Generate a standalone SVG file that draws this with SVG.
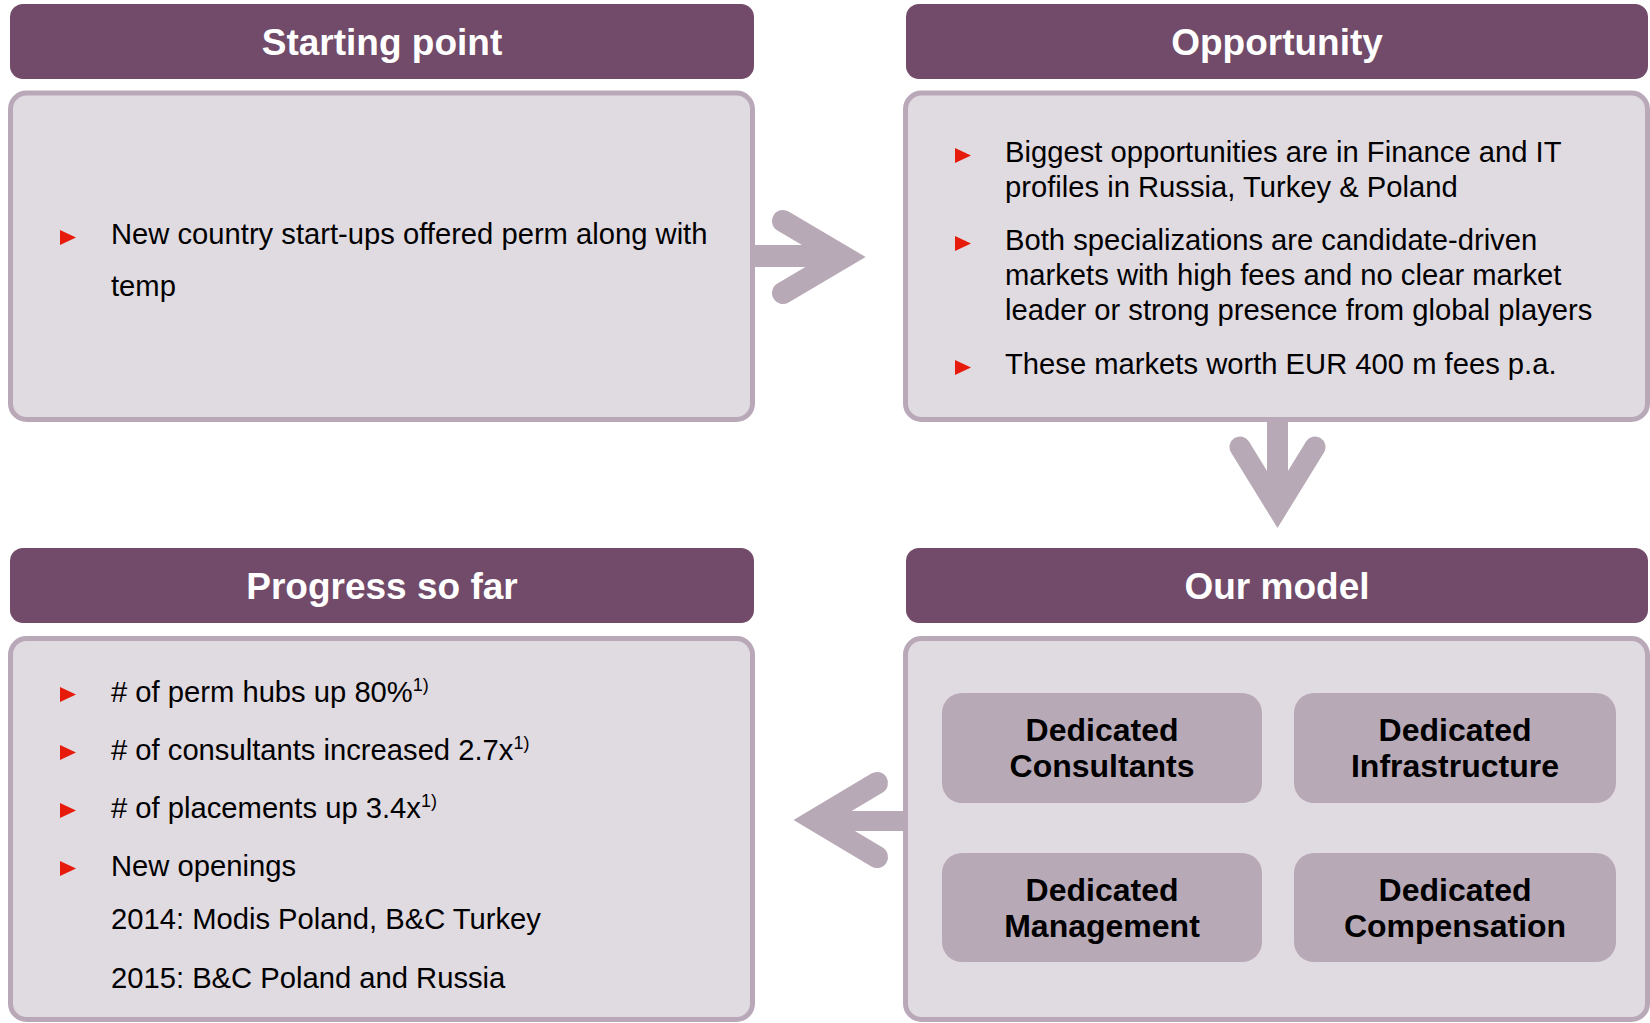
<svg xmlns="http://www.w3.org/2000/svg" width="1650" height="1023" viewBox="0 0 1650 1023">
  <defs>
    <style>
      .hdr { fill: #714b69; }
      .hdr-t { fill: #ffffff; font-family: "Liberation Sans", Arial, sans-serif; font-weight: bold; font-size: 37px; text-anchor: middle; }
      .body { fill: #e0dae1; stroke: #b9a9b8; stroke-width: 5; }
      .txt { fill: #000000; font-family: "Liberation Sans", Arial, sans-serif; font-size: 29.2px; }
      .sup { font-size: 18px; }
      .bul { fill: #e61b0c; }
      .tile { fill: #b8a9b7; }
      .tile-t { fill: #000000; font-family: "Liberation Sans", Arial, sans-serif; font-weight: bold; font-size: 32px; text-anchor: middle; }
      .shaft { fill: #b8a9b7; }
      .chev { fill: none; stroke: #b8a9b7; stroke-width: 22; stroke-linecap: round; stroke-linejoin: miter; stroke-miterlimit: 10; }
    </style>
    <polygon id="bullet" class="bul" points="0,-14 0,1 16,-6.5"/>
  </defs>

  <rect width="1650" height="1023" fill="#ffffff"/>

  <!-- connectors -->
  <g id="connectors">
    <!-- Starting point to Opportunity -->
    <rect class="shaft" x="754" y="245" width="90" height="22"/>
    <polyline class="chev" points="783,221 844,257 783,293"/>
    <!-- Opportunity to Our model -->
    <rect class="shaft" x="1267" y="421" width="21" height="70"/>
    <polyline class="chev" style="stroke-width:21" points="1240,447 1277.5,508 1315,447"/>
    <!-- Our model to Progress so far -->
    <rect class="shaft" x="815" y="811" width="89" height="20"/>
    <polyline class="chev" points="877,783 815,820 877,857"/>
  </g>

  <!-- Starting point -->
  <g id="starting-point">
    <rect class="hdr" x="10" y="4" width="744" height="75" rx="13"/>
    <text class="hdr-t" x="382" y="55">Starting point</text>
    <rect class="body" x="10.5" y="93" width="742" height="326.5" rx="16"/>
    <use href="#bullet" x="60" y="244"/>
    <text class="txt" x="111" y="244">New country start-ups offered perm along with</text>
    <text class="txt" x="111" y="296">temp</text>
  </g>

  <!-- Opportunity -->
  <g id="opportunity">
    <rect class="hdr" x="906" y="4" width="742" height="75" rx="13"/>
    <text class="hdr-t" x="1277" y="55">Opportunity</text>
    <rect class="body" x="905.5" y="93" width="742" height="326.5" rx="16"/>
    <use href="#bullet" x="955" y="162"/>
    <text class="txt" x="1005" y="162">Biggest opportunities are in Finance and IT</text>
    <text class="txt" x="1005" y="197">profiles in Russia, Turkey &amp; Poland</text>
    <use href="#bullet" x="955" y="250"/>
    <text class="txt" x="1005" y="250">Both specializations are candidate-driven</text>
    <text class="txt" x="1005" y="285">markets with high fees and no clear market</text>
    <text class="txt" x="1005" y="320">leader or strong presence from global players</text>
    <use href="#bullet" x="955" y="374"/>
    <text class="txt" x="1005" y="374">These markets worth EUR 400 m fees p.a.</text>
  </g>

  <!-- Progress so far -->
  <g id="progress-so-far">
    <rect class="hdr" x="10" y="548" width="744" height="75" rx="13"/>
    <text class="hdr-t" x="382" y="599">Progress so far</text>
    <rect class="body" x="10.5" y="638.5" width="742" height="381" rx="16"/>
    <use href="#bullet" x="60" y="701"/>
    <text class="txt" x="111" y="702"># of perm hubs up 80%<tspan class="sup" dy="-11">1)</tspan></text>
    <use href="#bullet" x="60" y="759"/>
    <text class="txt" x="111" y="760"># of consultants increased 2.7x<tspan class="sup" dy="-11">1)</tspan></text>
    <use href="#bullet" x="60" y="817"/>
    <text class="txt" x="111" y="818"># of placements up 3.4x<tspan class="sup" dy="-11">1)</tspan></text>
    <use href="#bullet" x="60" y="875"/>
    <text class="txt" x="111" y="876">New openings</text>
    <text class="txt" x="111" y="929">2014: Modis Poland, B&amp;C Turkey</text>
    <text class="txt" x="111" y="988">2015: B&amp;C Poland and Russia</text>
  </g>

  <!-- Our model -->
  <g id="our-model">
    <rect class="hdr" x="906" y="548" width="742" height="75" rx="13"/>
    <text class="hdr-t" x="1277" y="599">Our model</text>
    <rect class="body" x="905.5" y="638.5" width="742" height="381" rx="16"/>
  </g>

  <g id="dedicated-consultants">
    <rect class="tile" x="942" y="693" width="320" height="110" rx="20"/>
    <text class="tile-t" x="1102" y="741">Dedicated</text>
    <text class="tile-t" x="1102" y="777">Consultants</text>
  </g>
  <g id="dedicated-infrastructure">
    <rect class="tile" x="1294" y="693" width="322" height="110" rx="20"/>
    <text class="tile-t" x="1455" y="741">Dedicated</text>
    <text class="tile-t" x="1455" y="777">Infrastructure</text>
  </g>
  <g id="dedicated-management">
    <rect class="tile" x="942" y="853" width="320" height="109" rx="20"/>
    <text class="tile-t" x="1102" y="901">Dedicated</text>
    <text class="tile-t" x="1102" y="937">Management</text>
  </g>
  <g id="dedicated-compensation">
    <rect class="tile" x="1294" y="853" width="322" height="109" rx="20"/>
    <text class="tile-t" x="1455" y="901">Dedicated</text>
    <text class="tile-t" x="1455" y="937">Compensation</text>
  </g>
</svg>
